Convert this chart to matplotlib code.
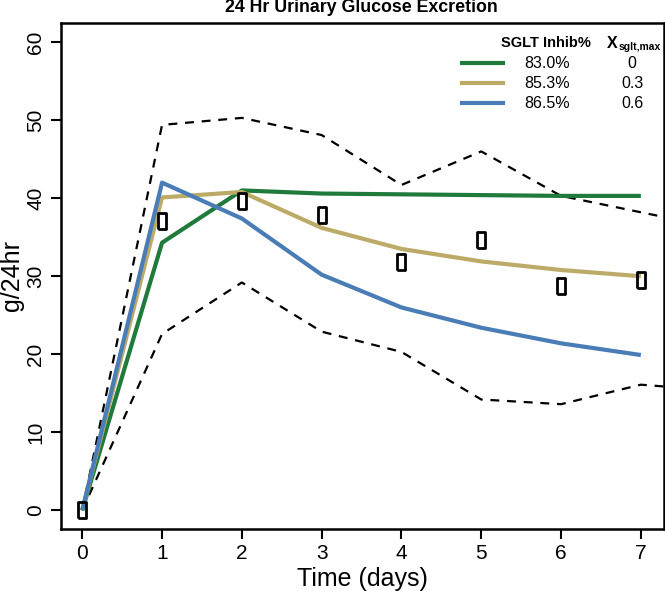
import numpy as np
import matplotlib
matplotlib.use("Agg")
from matplotlib import pyplot as plt
from matplotlib.lines import Line2D

plt.rcParams['font.family'] = ['Liberation Sans', 'DejaVu Sans']

days = [0, 1, 2, 3, 4, 5, 6, 7]
green_vals = [0, 34.3, 41.0, 40.6, 40.5, 40.4, 40.3, 40.3]
gold_vals = [0, 40.1, 40.8, 36.2, 33.5, 31.9, 30.8, 30.0]
blue_vals = [0, 42.0, 37.4, 30.2, 26.0, 23.4, 21.4, 19.9]

bound_days = [0, 1, 2, 3, 4, 5, 6, 7, 8]
upper_vals = [0, 49.4, 50.3, 48.1, 41.7, 46.0, 40.3, 38.2, 36.1]
lower_vals = [0, 22.6, 29.2, 22.9, 20.3, 14.2, 13.6, 16.1, 15.3]

obs_days = [0, 1, 2, 3, 4, 5, 6, 7]
obs_vals = [0, 37.1, 39.7, 37.9, 31.8, 34.6, 28.7, 29.5]

inhib_labels = ['83.0%', '85.3%', '86.5%']
xmax_labels = ['0', '0.3', '0.6']
colors = ['#1f7a3c', '#bcab68', '#4a7db5']

W, H = 665, 591
fig = plt.figure(figsize=(W / 100, H / 100), dpi=100)
ax = fig.add_axes([60.7 / W, 1 - 529 / H, (664 - 60.7) / W, (529 - 22.7) / H])

ax.plot(bound_days, upper_vals, color='black', lw=1.6, dashes=(4, 3.5))
ax.plot(bound_days, lower_vals, color='black', lw=1.6, dashes=(4, 3.5))
for vals, c in zip([green_vals, gold_vals, blue_vals], colors):
    ax.plot(days, vals, color=c, lw=3, solid_capstyle='butt')

rect = [(-0.5, -1), (0.5, -1), (0.5, 1), (-0.5, 1), (-0.5, -1)]
ax.plot(obs_days, obs_vals, ls='none', marker=rect, ms=11, mfc='none',
        mec='black', mew=2)

ax.set_xlim(-0.27, 7.29)
ax.set_ylim(-2.4, 62.5)
ax.set_xticks(range(8))
ax.set_yticks(range(0, 61, 10))
ax.tick_params(labelsize=15, width=1.5, length=7, pad=4)
for lab in ax.get_yticklabels():
    lab.set_rotation(90)
    lab.set_va('center')
for s in ax.spines.values():
    s.set_linewidth(1.8)
ax.set_xlabel('Time (days)', fontsize=18, labelpad=3)
ax.set_ylabel('g/24hr', fontsize=18, labelpad=2)

fig.text(361 / W, 1 - 8 / H, '24 Hr Urinary Glucose Excretion', ha='center',
         va='center', fontsize=12.8, fontweight='bold')

# legend drawn by hand (R style, no box)
def px(x, y):
    return x / W, 1 - y / H

fig.text(*px(546, 43), 'SGLT Inhib%', ha='center', va='center',
         fontsize=10.5, fontweight='bold')
fig.text(*px(607, 43), 'X', ha='left', va='center', fontsize=11.5,
         fontweight='bold')
fig.text(*px(619, 47), 'sglt,max', ha='left', va='center', fontsize=7.5,
         fontweight='bold')
rows = [63, 83, 103]
for y, c, a, b in zip(rows, colors, inhib_labels, xmax_labels):
    x0, y0 = px(462, y)
    x1, _ = px(503, y)
    fig.add_artist(Line2D([x0, x1], [y0, y0], color=c, lw=3,
                          transform=fig.transFigure))
    fig.text(*px(547, y), a, ha='center', va='center', fontsize=11.5)
    fig.text(*px(632, y), b, ha='center', va='center', fontsize=11.5)

fig.savefig('out.png', dpi=100)
